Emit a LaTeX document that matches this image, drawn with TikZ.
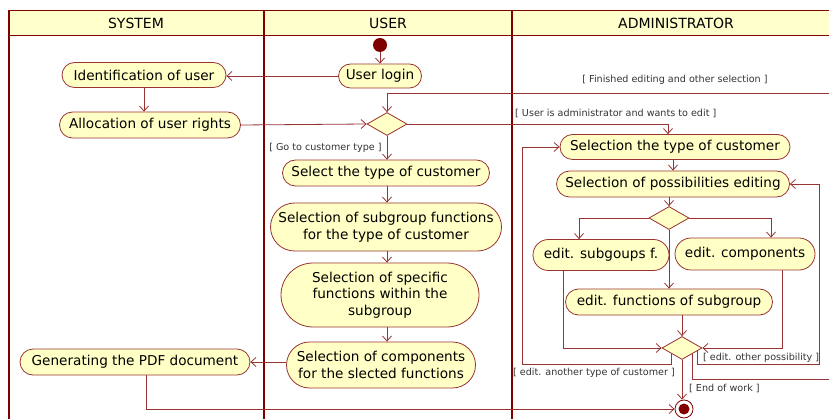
\documentclass[tikz,border=0pt]{standalone}
\usepackage{fontspec}
\setmainfont{DejaVu Sans}
\usepackage{xcolor}
\usepackage{tikz}
\usetikzlibrary{
	arrows.meta,									% 箭头样式
	shapes.geometric,								% 菱形判断节点
	shapes.misc,									% 圆角矩形活动节点
}
\definecolor{lanered}{HTML}{800000}
\definecolor{flowred}{HTML}{993333}
\definecolor{actfill}{HTML}{FFFFC6}
\definecolor{headfill}{HTML}{FFFFCC}
\tikzset{
	act/.style={rounded rectangle, draw=flowred, fill=actfill, line width=0.8pt,
		font=\fontsize{13.6}{16.5}\selectfont, align=center, inner sep=0pt},
	choice/.style={diamond, draw=flowred, fill=actfill, line width=0.8pt,
		minimum width=40pt, minimum height=23pt, inner sep=0pt},
	flow/.style={draw=flowred, line width=0.8pt, -{Straight Barb[length=5pt, width=9pt]}},
	guard/.style={font=\fontsize{9.6}{11}\selectfont, text=black!80, inner sep=1pt},
	lanehead/.style={font=\fontsize{14}{16}\selectfont},
}

\begin{document}
\begin{tikzpicture}[x=1pt, y=-1pt]
		\useasboundingbox (0,0) rectangle (829,419);
		\clip (0,0) rectangle (829,419);
		\fill[headfill] (9,10) rectangle (850,35);
		\draw[lanered, line width=0.8pt] (9,35) -- (850,35) (9,10) -- (850,10);
		\draw[lanered, line width=2pt] (9,10) -- (9,430) (264,10) -- (264,430) (512,10) -- (512,430);
		\node[lanehead] (sys) at (136,23) {SYSTEM};
		\node[lanehead] (usr) at (388,23) {USER};
		\node[lanehead] (adm) at (676,23) {ADMINISTRATOR};

		\node[circle, fill=lanered, minimum size=14pt, inner sep=0pt] (start) at (380,45) {};
		\node[act, minimum width=83pt, minimum height=24pt] (login) at (380,76) {User login};
		\node[act, minimum width=164pt, minimum height=25pt] (ident) at (144,75) {Identification of user};
		\node[act, minimum width=181pt, minimum height=26pt] (alloc) at (150,125) {Allocation of user rights};
		\node[choice] (dec1) at (387,124) {};
		\node[act, minimum width=207pt, minimum height=26pt] (seltype) at (386,173) {Select the type of customer};
		\node[act, minimum width=231pt, minimum height=48pt] (selsub) at (386,227) {Selection of subgroup functions\\for the type of customer};
		\node[act, minimum width=198pt, minimum height=64pt] (selspec) at (380,295) {Selection of specific\\functions within the\\subgroup};
		\node[act, minimum width=189pt, minimum height=46pt] (selcomp) at (381,365) {Selection of components\\for the slected functions};
		\node[act, minimum width=230pt, minimum height=26pt] (genpdf) at (135,362) {Generating the PDF document};

		\node[act, minimum width=230pt, minimum height=25pt] (aseltype) at (675,147) {Selection the type of customer};
		\node[act, minimum width=233pt, minimum height=26pt] (aselposs) at (673,184) {Selection of possibilities editing};
		\node[choice] (dec2) at (669,218) {};
		\node[act, minimum width=136pt, minimum height=31pt] (esub) at (601,255) {edit. subgoups f.};
		\node[act, minimum width=140pt, minimum height=32pt] (ecomp) at (745,254) {edit. components};
		\node[act, minimum width=207pt, minimum height=26pt] (efunc) at (669,302) {edit. functions of subgroup};
		\node[choice] (dec3) at (682,348) {};
		\node[circle, draw=lanered, fill=white, line width=0.8pt, minimum size=18pt, inner sep=0pt] (stop) at (684,409) {};
		\fill[lanered] (stop.center) circle (5.5pt);
		\coordinate (rimR) at (850,93);

		\draw[flow] (start) -- (login);
		\draw[flow] (login.west) -- (ident.east |- login.west);
		\draw[flow] (ident.south) -- (ident.south |- alloc.north);
		\draw[flow] (alloc.east) -- (dec1.west);
		\draw[flow] (dec1.south) -- (dec1.south |- seltype.north)
			node[guard, pos=0.5, anchor=east, xshift=-4pt] {[ Go to customer type ]};
		\draw[flow] (seltype.south -| dec1.south) -- (selsub.north -| dec1.south);
		\draw[flow] (selsub.south -| dec1.south) -- (selspec.north -| dec1.south);
		\draw[flow] (selspec.south -| dec1.south) -- (selcomp.north -| dec1.south);
		\draw[flow] (selcomp.west |- genpdf.east) -- (genpdf.east);
		\draw[flow] ([xshift=11pt]genpdf.south) |- (stop.west);

		\draw[flow] (dec1.east) -| ([xshift=-7pt]aseltype.north);
		\node[guard, anchor=west] (gadmin) at (514,113) {[ User is administrator and wants to edit ]};
		\draw[flow] (aseltype.south -| 673,0) -- (aselposs.north -| 673,0);
		\draw[flow] (aselposs.south -| dec2.north) -- (dec2.north);
		\draw[flow] (dec2.west) -| ([xshift=-22pt]esub.north);
		\draw[flow] (dec2.east) -| ([xshift=26pt]ecomp.north);
		\draw[flow] (dec2.south) -- (efunc.north);
		\draw[flow] (dec3.north |- efunc.south) -- (dec3.north);
		\draw[flow] ([xshift=-38pt]esub.south) |- (dec3.west);
		\draw[flow] ([xshift=37pt]ecomp.south) |- (dec3.east);
		\draw[flow] (dec3.south west) -- ++(0,10) -| ([xshift=-37pt]aseltype.west) -- (aseltype.west);
		\node[guard, anchor=east] (ganother) at (676,373) {[ edit. another type of customer ]};
		\draw[flow] (dec3.-12) -- ++(0,13) -| ([xshift=29pt]aselposs.east) -- (aselposs.east);
		\node[guard, anchor=west] (gother) at (702,358) {[ edit. other possibility ]};
		\draw[flow] (dec3.south east) -- ++(0,25) -| (rimR) -| (dec1.north);
		\node[guard] (gfinish) at (675,80) {[ Finished editing and other selection ]};
		\draw[flow] (dec3.south) -- (dec3.south |- stop.north);
		\node[guard, anchor=west] (gend) at (688,388) {[ End of work ]};
	\end{tikzpicture}
\end{document}
